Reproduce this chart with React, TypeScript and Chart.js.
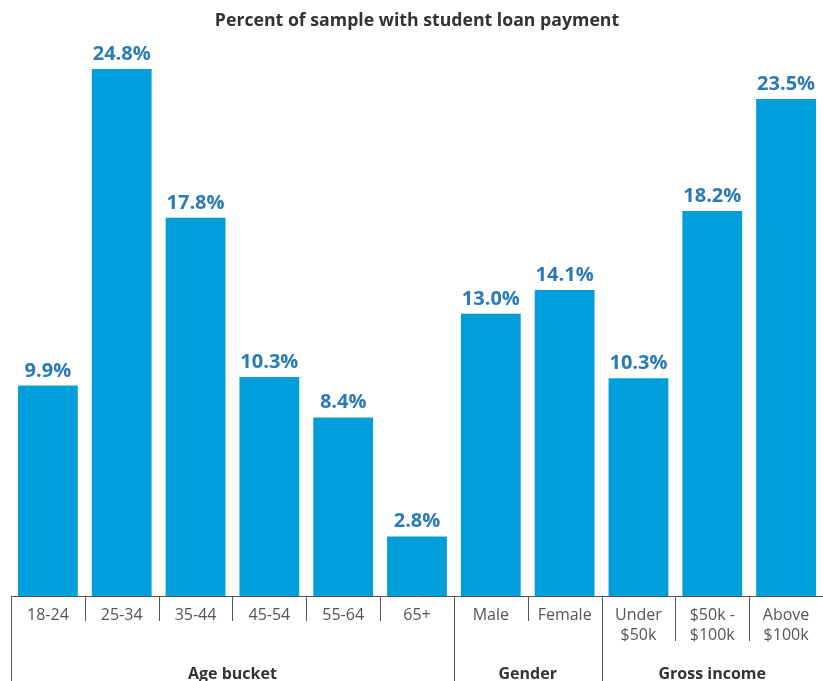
import React, { useEffect, useRef } from 'react';
import { Chart, registerables } from 'chart.js';

Chart.register(...registerables);

const categories: string[][] = [
  ['18-24'], ['25-34'], ['35-44'], ['45-54'], ['55-64'], ['65+'],
  ['Male'], ['Female'],
  ['Under', '$50k'], ['$50k -', '$100k'], ['Above', '$100k'],
];
const values = [9.9, 24.8, 17.8, 10.3, 8.4, 2.8, 13.0, 14.1, 10.3, 18.2, 23.5];
const groupNames = ['Age bucket', 'Gender', 'Gross income'];
const groupSizes = [6, 2, 3];
// each panel in the original has its own (hidden) value axis
const groupAxisMax = [26.15, 25.6, 26.28];
const chartTitle = 'Percent of sample with student loan payment';

const FONT = '"Open Sans", "DejaVu Sans", sans-serif';

const groupStarts: number[] = [];
{
  let acc = 0;
  groupSizes.forEach((s) => { groupStarts.push(acc); acc += s; });
}

const decorPlugin = {
  id: 'decor',
  afterDraw(chart: any) {
    const ctx = chart.ctx;
    const xs = chart.scales.x;
    const area = chart.chartArea;
    const n = categories.length;
    const half = (xs.getPixelForValue(1) - xs.getPixelForValue(0)) / 2;
    const H = chart.height;

    ctx.save();
    ctx.strokeStyle = '#555';
    ctx.lineWidth = 1;
    for (let i = 0; i <= n; i++) {
      const bx = Math.round(i < n ? xs.getPixelForValue(i) - half : xs.getPixelForValue(n - 1) + half) + 0.5;
      const isGroup = groupStarts.includes(i) || i === n;
      let gi = 0;
      for (let g = 0; g < groupStarts.length; g++) if (i >= groupStarts[g]) gi = g;
      const maxLines = Math.max(
        ...categories.slice(groupStarts[gi], groupStarts[gi] + groupSizes[gi]).map((c) => c.length)
      );
      const yEnd = isGroup ? H : area.bottom + 25 + (maxLines - 1) * 20;
      ctx.beginPath();
      ctx.moveTo(bx, area.bottom);
      ctx.lineTo(bx, yEnd);
      ctx.stroke();
    }

    // group labels
    ctx.fillStyle = '#333';
    ctx.font = `bold 16px ${FONT}`;
    ctx.textAlign = 'center';
    ctx.textBaseline = 'alphabetic';
    groupNames.forEach((name, g) => {
      const a = xs.getPixelForValue(groupStarts[g]) - half;
      const b = Math.min(xs.getPixelForValue(groupStarts[g] + groupSizes[g] - 1) + half, chart.width + 1);
      ctx.fillText(name, (a + b) / 2, H - 2);
    });

    // data labels
    ctx.fillStyle = '#2A7AB7';
    ctx.font = `bold 20px ${FONT}`;
    chart.data.datasets.forEach((ds: any, d: number) => {
      const meta = chart.getDatasetMeta(d);
      meta.data.forEach((el: any, i: number) => {
        const v = ds.data[i];
        if (v === null || v === undefined) return;
        ctx.fillText(v.toFixed(1) + '%', el.x, el.y - 9);
      });
    });
    ctx.restore();
  },
};

export default function App() {
  const ref = useRef<HTMLCanvasElement | null>(null);
  useEffect(() => {
    document.body.style.margin = '0';
    const datasets = groupNames.map((name, g) => ({
      label: name,
      data: values.map((v, i) =>
        i >= groupStarts[g] && i < groupStarts[g] + groupSizes[g] ? v : null
      ),
      yAxisID: 'y' + g,
      backgroundColor: '#009FDB',
      barPercentage: 0.81,
      categoryPercentage: 1,
      grouped: false,
    }));
    const yScales: any = {};
    groupAxisMax.forEach((m, g) => {
      yScales['y' + g] = { display: false, min: 0, max: m };
    });
    const chart = new Chart(ref.current!, {
      type: 'bar',
      data: { labels: categories, datasets },
      options: {
        animation: false,
        responsive: false,
        devicePixelRatio: 1,
        layout: { padding: { left: 11, right: 0, top: 0, bottom: 0 } },
        plugins: {
          legend: { display: false },
          tooltip: { enabled: false },
          title: {
            display: true,
            text: chartTitle,
            color: '#333',
            font: { family: FONT, size: 17.7, weight: 'bold', lineHeight: 1.2 },
            padding: { top: 10, bottom: 9 },
          },
        },
        scales: {
          x: {
            grid: { display: false, drawTicks: false },
            border: { display: true, color: '#555', width: 1 },
            ticks: {
              color: '#555',
              font: { family: FONT, size: 16, lineHeight: 1.25 },
              padding: 9,
              maxRotation: 0,
              autoSkip: false,
            },
            afterFit: (scale: any) => { scale.height = 85; },
          },
          ...yScales,
        },
      },
      plugins: [decorPlugin],
    } as any);
    return () => chart.destroy();
  }, []);
  return (
    <div style={{ width: 823, height: 681 }}>
      <canvas ref={ref} width={823} height={681} />
    </div>
  );
}
